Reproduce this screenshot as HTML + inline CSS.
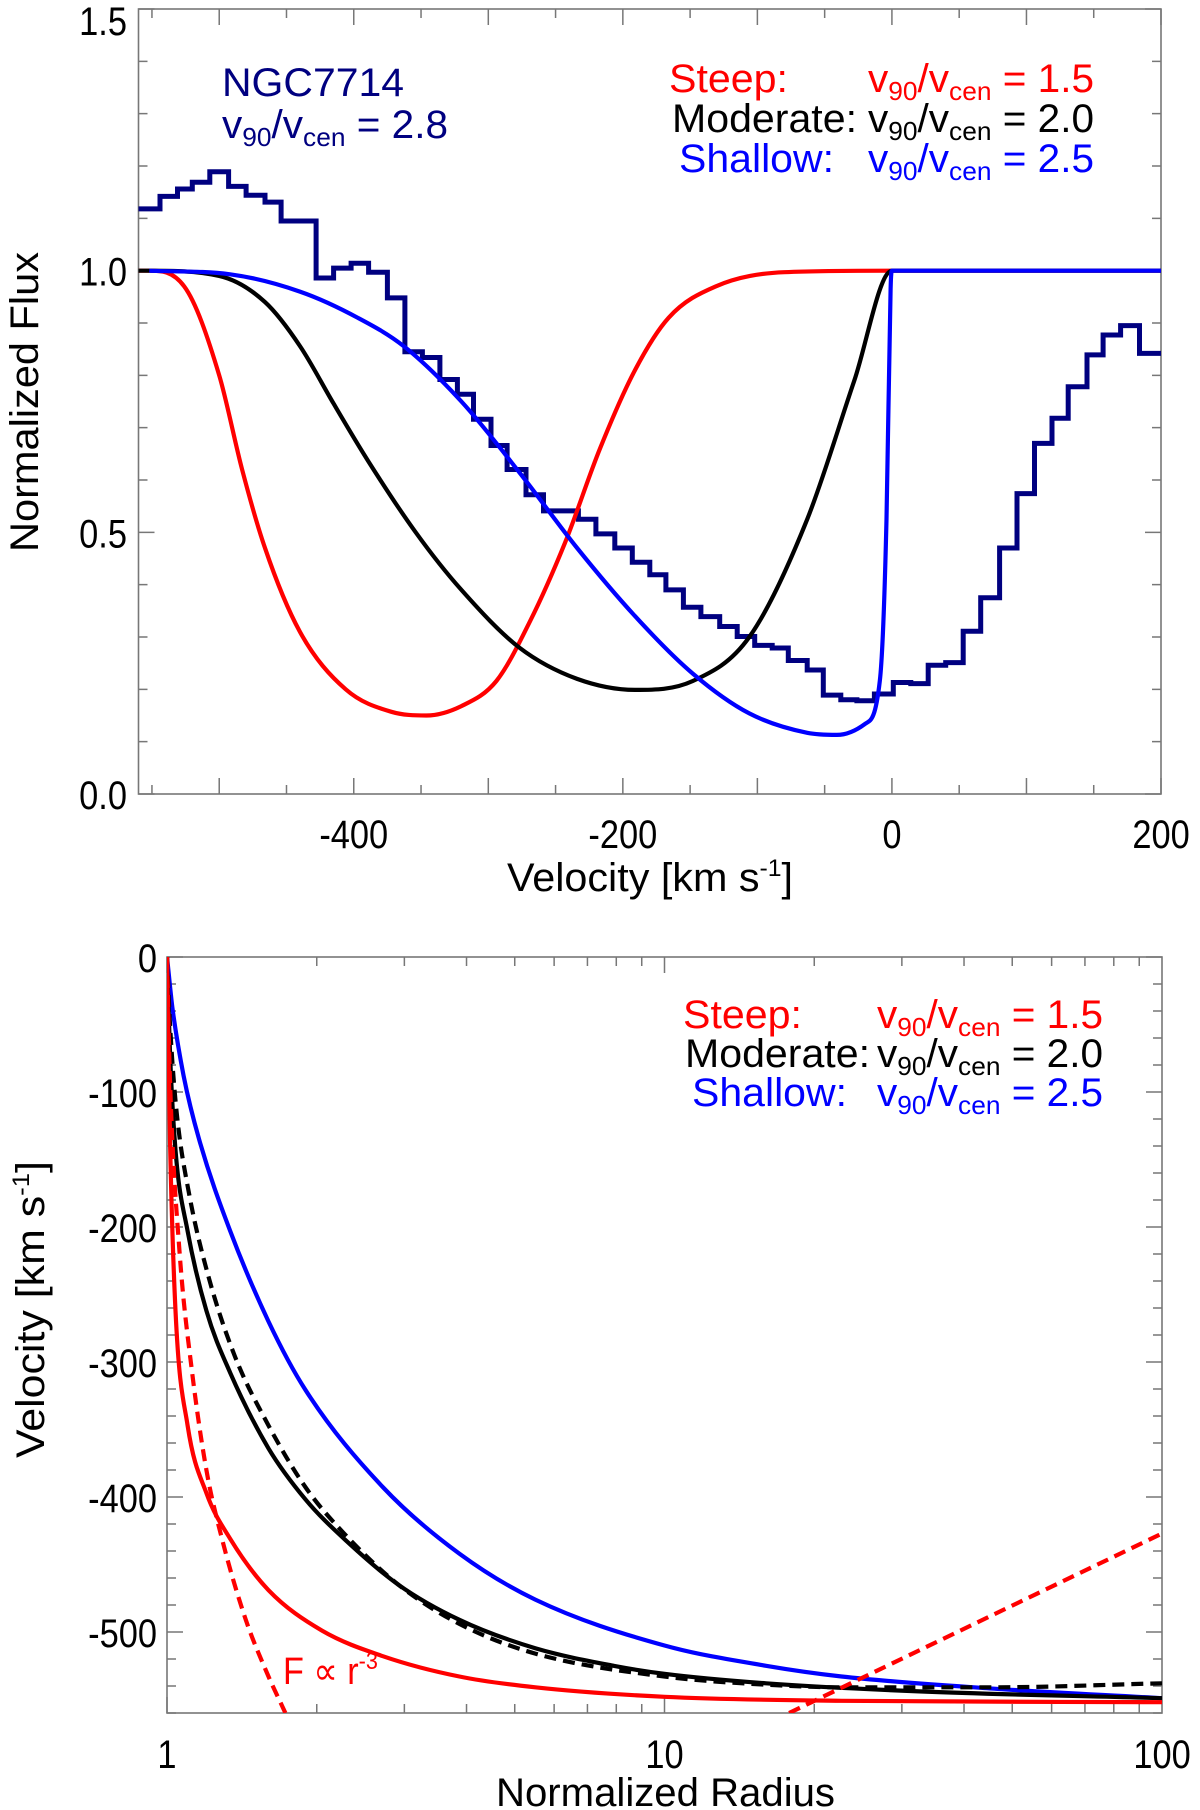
<!DOCTYPE html>
<html><head><meta charset="utf-8"><style>
html,body{margin:0;padding:0;background:#fff}
svg{display:block}
text{font-family:"Liberation Sans",sans-serif}
</style></head><body>
<svg id="fig" width="1200" height="1810" viewBox="0 0 1200 1810" xmlns="http://www.w3.org/2000/svg">
<defs>
<clipPath id="clipTop"><rect x="138.5" y="9" width="1022.5" height="785"/></clipPath>
<clipPath id="clipBot"><rect x="167" y="957" width="995" height="756"/></clipPath>
</defs>
<g id="top"></g>
<g id="bot"></g>
</svg>
<script>
// ---- Top panel data: velocity (km/s) and normalized flux ----
const redV   = [-560,-552,-526,-500,-483,-466,-440,-406,-372,-346,-320,-294,-269,-243,-217,-191,-166,-131,-80,0,200];
const redF   = [1.0,1.0,0.97,0.80,0.62,0.47,0.31,0.20,0.157,0.15,0.168,0.216,0.33,0.48,0.66,0.81,0.91,0.97,0.997,1.0,1.0];
const blackV = [-560,-552,-500,-466,-440,-415,-389,-354,-320,-277,-234,-191,-148,-106,-63,-28,0,200];
const blackF = [1.0,1.0,0.99,0.94,0.856,0.746,0.635,0.50,0.39,0.28,0.22,0.199,0.216,0.30,0.525,0.79,1.0,1.0];
const blueV  = [-552,-492,-440,-397,-363,-320,-277,-234,-191,-148,-106,-63,-41,-20,-9,-4,-1,0,200];
const blueF  = [1.0,0.993,0.96,0.91,0.856,0.75,0.615,0.47,0.34,0.23,0.154,0.117,0.113,0.134,0.216,0.525,0.965,1.0,1.0];
const histEdges = [-560,-544,-531,-520,-507,-493,-480,-466,-454,-428,-415,-402,-389,-375,-362,-349,-336,-323,-311,-298,-286,-272,-259,-233,-220,-206,-193,-180,-168,-155,-142,-128,-115,-102,-89,-77,-63,-51,-38,-26,-13,1,14,27,40,53,66,80,93,106,119,131,145,157,170,184];
const histFlux  = [1.118,1.142,1.156,1.169,1.189,1.161,1.144,1.131,1.095,0.986,1.005,1.014,0.997,0.948,0.845,0.834,0.792,0.764,0.716,0.666,0.620,0.572,0.541,0.525,0.497,0.470,0.443,0.419,0.390,0.357,0.339,0.320,0.301,0.284,0.279,0.255,0.237,0.189,0.180,0.178,0.191,0.213,0.211,0.246,0.251,0.311,0.375,0.470,0.574,0.670,0.718,0.778,0.839,0.877,0.895,0.842];
const topXTicks = [-400,-200,0,200];
const topYTicks = [0.0,0.5,1.0,1.5];

// ---- Bottom panel data: normalized radius and velocity ----
const redR   = [1,1.014,1.04,1.10,1.20,1.34,1.6,2.05,2.72,3.87,5.5,10,22.7,100];
const redVel = [0,-135,-262,-347,-397,-431,-469,-499,-518,-533,-541,-548,-551,-552];
const blkR   = [1,1.014,1.04,1.10,1.20,1.34,1.6,1.9,2.27,2.92,3.87,5.5,7.9,10,16,32.5,100];
const blkVel = [0,-71,-143,-203,-262,-308,-364,-402,-431,-465,-491,-512,-525,-531,-538,-544,-549];
const blkDashR   = [1,1.014,1.045,1.11,1.21,1.37,1.6,1.9,2.27,2.92,3.87,5.5,10,16,22.7,46,100];
const blkDashVel = [0,-50,-114,-177,-236,-296,-347,-393,-427,-465,-494,-516,-533,-539,-541,-541,-538];
const bluR   = [1,1.025,1.08,1.16,1.34,1.6,1.9,2.72,3.87,5.5,10,16,22.7,46,100];
const bluVel = [0,-37,-88,-135,-203,-270,-321,-393,-442,-476,-510,-525,-533,-542,-549];
const powR   = [1,1.014,1.06,1.12,1.2,1.29,1.44,1.6,1.73];
const powVel = [0,-92,-219,-304,-380,-431,-491,-533,-560];
const linR   = [17.8,100];
const linVel = [-560,-427];
const botXTicks = [1,10,100];
const botYTicks = [0,-100,-200,-300,-400,-500];

const NS='http://www.w3.org/2000/svg';
const topG=document.getElementById('top'), botG=document.getElementById('bot');
function mk(tag,attrs,parent){const e=document.createElementNS(NS,tag);for(const k in attrs)e.setAttribute(k,attrs[k]);parent.appendChild(e);return e;}

const TL=138.5,TR=1161,TT=9,TB=794;
const tx=v=>TL+(v+560)*(TR-TL)/760;
const ty=f=>TB-f*(TB-TT)/1.5;
const BL=167,BR=1162,BT=957,BB=1713;
const bx=r=>BL+Math.log10(r)*(BR-BL)/2;
const by=v=>BT+(-v)*(BB-BT)/560;

function smooth(xs,ys,fx,fy){
  const X=xs.map(fx),Y=ys.map(fy),n=X.length;
  if(n<3)return X.map((x,i)=>(i?'L':'M')+x.toFixed(1)+','+Y[i].toFixed(1)).join('');
  const d=[],m=[];
  for(let i=0;i<n-1;i++)d.push((Y[i+1]-Y[i])/(X[i+1]-X[i]));
  m[0]=d[0];m[n-1]=d[n-2];
  for(let i=1;i<n-1;i++){m[i]=(d[i-1]*d[i]<=0)?0:(d[i-1]+d[i])/2;}
  for(let i=0;i<n-1;i++){
    if(d[i]===0){m[i]=0;m[i+1]=0;continue;}
    const a=m[i]/d[i],b=m[i+1]/d[i],s=a*a+b*b;
    if(s>9){const t=3/Math.sqrt(s);m[i]=t*a*d[i];m[i+1]=t*b*d[i];}
  }
  let p='M'+X[0].toFixed(1)+','+Y[0].toFixed(1);
  for(let i=0;i<n-1;i++){const h=(X[i+1]-X[i])/3;
    p+=`C${(X[i]+h).toFixed(1)},${(Y[i]+m[i]*h).toFixed(1)} ${(X[i+1]-h).toFixed(1)},${(Y[i+1]-m[i+1]*h).toFixed(1)} ${X[i+1].toFixed(1)},${Y[i+1].toFixed(1)}`;}
  return p;
}
function label(parent,x,y,str,anchor){
  const g=mk('g',{transform:`translate(${x},${y}) scale(0.86,1)`},parent);
  const t=mk('text',{x:0,y:0,'font-size':40,'text-anchor':anchor,fill:'#000'},g);
  t.textContent=str;return t;
}

let fr=mk('rect',{x:TL,y:TT,width:TR-TL,height:TB-TT,fill:'none',stroke:'#777','stroke-width':1.6},topG);


let tk='';
for(let v=-550;v<=200;v+=50){const L=(v%100===0)?16:9;const X=tx(v);tk+=`M${X},${TB}v${-L}M${X},${TT}v${L}`;}
for(let f=0;f<=1.5001;f+=0.1){const L=(Math.round(f*10)%5===0)?16:9;const Y=ty(f);tk+=`M${TL},${Y}h${L}M${TR},${Y}h${-L}`;}
let tkp=mk('path',{d:tk,stroke:'#777','stroke-width':1.5,fill:'none'},topG);


topXTicks.forEach(v=>{const t=label(topG,tx(v),848,String(v),'middle');

});
topYTicks.forEach(f=>{const t=label(topG,127,Math.max(ty(f)+15,35),f.toFixed(1),'end');

});

const topClip=mk('g',{'clip-path':'url(#clipTop)'},topG);
let hd='M'+tx(histEdges[0])+','+ty(histFlux[0]);
for(let i=0;i<histEdges.length;i++){const xe=(i+1<histEdges.length)?histEdges[i+1]:200;hd+=`V${ty(histFlux[i]).toFixed(1)}H${tx(xe).toFixed(1)}`;}
let h=mk('path',{d:hd,stroke:'#000080','stroke-width':5,fill:'none'},topClip);


let pr=mk('path',{d:smooth(redV,redF,tx,ty),stroke:'#ff0000','stroke-width':4.2,fill:'none'},topClip);


let pk=mk('path',{d:smooth(blackV,blackF,tx,ty),stroke:'#000','stroke-width':4.2,fill:'none'},topClip);


let pb=mk('path',{d:smooth(blueV,blueF,tx,ty),stroke:'#0000ff','stroke-width':4.2,fill:'none'},topClip);



let fr2=mk('rect',{x:BL,y:BT,width:BR-BL,height:BB-BT,fill:'none',stroke:'#777','stroke-width':1.6},botG);


let tk2='';
[1,10].forEach(d=>{for(let m=1;m<=9;m++){const r=d*m;const L=m===1?16:9;const X=bx(r);tk2+=`M${X},${BB}v${-L}M${X},${BT}v${L}`;}});
for(let v=0;v>=-560;v-=20){const L=(v%100===0)?16:9;const Y=by(v);tk2+=`M${BL},${Y}h${L}M${BR},${Y}h${-L}`;}
let tkp2=mk('path',{d:tk2,stroke:'#777','stroke-width':1.5,fill:'none'},botG);


botXTicks.forEach(r=>{const t=label(botG,bx(r),1768,String(r),'middle');

});
botYTicks.forEach(v=>{const t=label(botG,157,by(v)+15,String(v),'end');

});

const botClip=mk('g',{'clip-path':'url(#clipBot)'},botG);
let c1=mk('path',{d:smooth(bluR,bluVel,bx,by),stroke:'#0000ff','stroke-width':4.2,fill:'none'},botClip);


let c2=mk('path',{d:smooth(blkR,blkVel,bx,by),stroke:'#000','stroke-width':4.2,fill:'none'},botClip);


let c3=mk('path',{d:smooth(blkDashR,blkDashVel,bx,by),stroke:'#000','stroke-width':4.2,fill:'none','stroke-dasharray':'12,7'},botClip);


let c4=mk('path',{d:smooth(redR,redVel,bx,by),stroke:'#ff0000','stroke-width':4.2,fill:'none'},botClip);


let c5=mk('path',{d:smooth(powR,powVel,bx,by),stroke:'#ff0000','stroke-width':4.2,fill:'none','stroke-dasharray':'12,7'},botClip);


let c6=mk('path',{d:smooth(linR,linVel,bx,by),stroke:'#ff0000','stroke-width':4.2,fill:'none','stroke-dasharray':'12,7'},botClip);


</script>
<svg width="1200" height="1810" viewBox="0 0 1200 1810" xmlns="http://www.w3.org/2000/svg" style="position:absolute;left:0;top:0;pointer-events:none">
<g font-family="Liberation Sans, sans-serif">
<text x="507" y="891" font-size="40" textLength="286" lengthAdjust="spacingAndGlyphs">Velocity [km s<tspan dy="-15" font-size="24">-1</tspan><tspan dy="15">]</tspan></text>
<text transform="translate(38,402) rotate(-90)" x="-150" font-size="40" textLength="300" lengthAdjust="spacingAndGlyphs">Normalized Flux</text>
<text x="222" y="96" font-size="40" fill="#000080" textLength="182" lengthAdjust="spacingAndGlyphs">NGC7714</text>
<text x="222" y="138" font-size="40" fill="#000080" textLength="226" lengthAdjust="spacingAndGlyphs">v<tspan dy="8" font-size="26">90</tspan><tspan dy="-8">/v</tspan><tspan dy="8" font-size="26">cen</tspan><tspan dy="-8"> = 2.8</tspan></text>
<g>
<text x="669" y="92" font-size="40" fill="#ff0000" textLength="119" lengthAdjust="spacingAndGlyphs">Steep:</text>
<text x="868" y="92" font-size="40" fill="#ff0000" textLength="226" lengthAdjust="spacingAndGlyphs">v<tspan dy="8" font-size="26">90</tspan><tspan dy="-8">/v</tspan><tspan dy="8" font-size="26">cen</tspan><tspan dy="-8"> = 1.5</tspan></text>
<text x="672" y="132" font-size="40" fill="#000" textLength="185" lengthAdjust="spacingAndGlyphs">Moderate:</text>
<text x="868" y="132" font-size="40" fill="#000" textLength="226" lengthAdjust="spacingAndGlyphs">v<tspan dy="8" font-size="26">90</tspan><tspan dy="-8">/v</tspan><tspan dy="8" font-size="26">cen</tspan><tspan dy="-8"> = 2.0</tspan></text>
<text x="679" y="172" font-size="40" fill="#0000ff" textLength="155" lengthAdjust="spacingAndGlyphs">Shallow:</text>
<text x="868" y="172" font-size="40" fill="#0000ff" textLength="226" lengthAdjust="spacingAndGlyphs">v<tspan dy="8" font-size="26">90</tspan><tspan dy="-8">/v</tspan><tspan dy="8" font-size="26">cen</tspan><tspan dy="-8"> = 2.5</tspan></text>
</g>
<text x="496" y="1806" font-size="40" textLength="339" lengthAdjust="spacingAndGlyphs">Normalized Radius</text>
<text transform="translate(44,1310) rotate(-90)" x="-148" font-size="40" textLength="297" lengthAdjust="spacingAndGlyphs">Velocity [km s<tspan dy="-15" font-size="24">-1</tspan><tspan dy="15">]</tspan></text>
<g transform="translate(283,1684) scale(0.9,1)"><text x="0" y="0" font-size="38" fill="#ff0000">F ∝ r<tspan dy="-15" font-size="24">-3</tspan></text></g>
<g>
<text x="683" y="1028" font-size="40" fill="#ff0000" textLength="119" lengthAdjust="spacingAndGlyphs">Steep:</text>
<text x="877" y="1028" font-size="40" fill="#ff0000" textLength="226" lengthAdjust="spacingAndGlyphs">v<tspan dy="8" font-size="26">90</tspan><tspan dy="-8">/v</tspan><tspan dy="8" font-size="26">cen</tspan><tspan dy="-8"> = 1.5</tspan></text>
<text x="685" y="1067" font-size="40" fill="#000" textLength="185" lengthAdjust="spacingAndGlyphs">Moderate:</text>
<text x="877" y="1067" font-size="40" fill="#000" textLength="226" lengthAdjust="spacingAndGlyphs">v<tspan dy="8" font-size="26">90</tspan><tspan dy="-8">/v</tspan><tspan dy="8" font-size="26">cen</tspan><tspan dy="-8"> = 2.0</tspan></text>
<text x="692" y="1106" font-size="40" fill="#0000ff" textLength="155" lengthAdjust="spacingAndGlyphs">Shallow:</text>
<text x="877" y="1106" font-size="40" fill="#0000ff" textLength="226" lengthAdjust="spacingAndGlyphs">v<tspan dy="8" font-size="26">90</tspan><tspan dy="-8">/v</tspan><tspan dy="8" font-size="26">cen</tspan><tspan dy="-8"> = 2.5</tspan></text>
</g>
</g>
</svg>
</body></html>
